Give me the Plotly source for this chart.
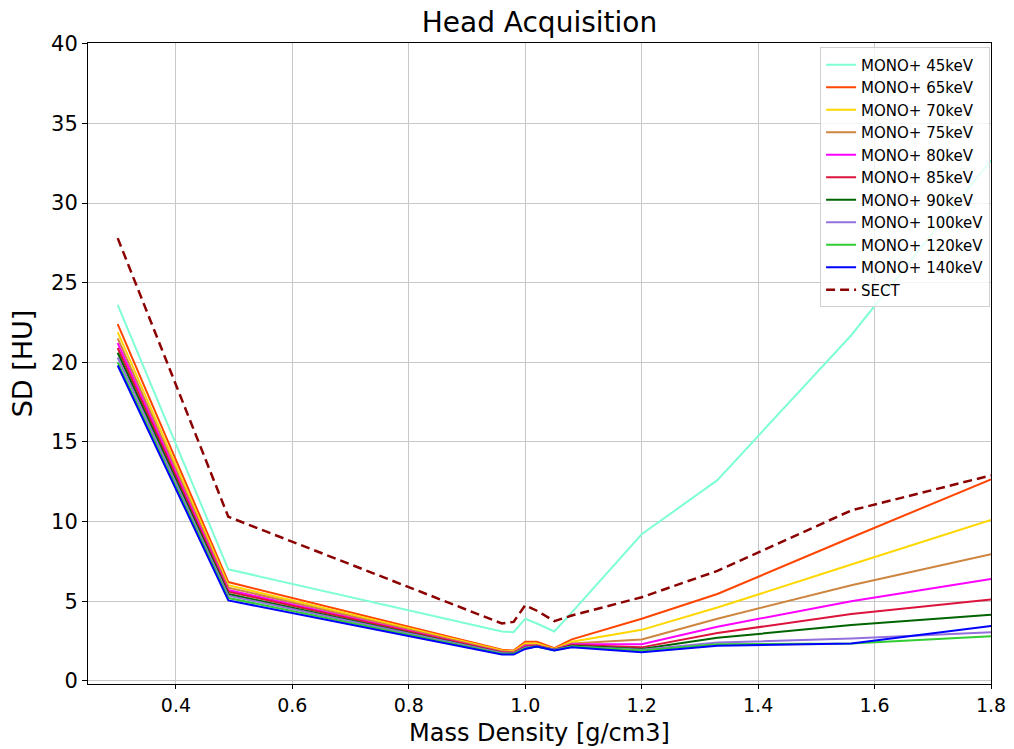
import plotly.graph_objects as go

density = [0.3, 0.49, 0.96, 0.98, 1.0, 1.02, 1.05, 1.08, 1.2, 1.33, 1.56, 1.8]

mono45 = [23.6, 7.0, 3.1, 3.05, 3.9, 3.6, 3.1, 4.3, 9.2, 12.6, 21.7, 32.7]
mono65 = [22.4, 6.2, 1.95, 1.9, 2.45, 2.45, 2.05, 2.6, 3.9, 5.45, 9.0, 12.65]
mono70 = [21.9, 6.0, 1.9, 1.85, 2.35, 2.35, 2.0, 2.45, 3.2, 4.6, 7.3, 10.1]
mono75 = [21.5, 5.85, 1.85, 1.8, 2.25, 2.25, 1.95, 2.35, 2.6, 3.9, 6.0, 7.95]
mono80 = [21.2, 5.7, 1.8, 1.75, 2.2, 2.2, 1.95, 2.3, 2.3, 3.4, 5.0, 6.4]
mono85 = [20.9, 5.6, 1.8, 1.75, 2.15, 2.2, 1.95, 2.25, 2.1, 3.0, 4.2, 5.1]
mono90 = [20.6, 5.45, 1.75, 1.7, 2.1, 2.15, 1.95, 2.2, 2.0, 2.7, 3.5, 4.15]
mono100 = [20.3, 5.35, 1.75, 1.7, 2.1, 2.15, 1.95, 2.15, 1.95, 2.4, 2.65, 3.05]
mono120 = [20.0, 5.2, 1.7, 1.7, 2.05, 2.15, 1.9, 2.15, 1.9, 2.3, 2.35, 2.8]
mono140 = [19.8, 5.05, 1.65, 1.65, 2.0, 2.15, 1.9, 2.1, 1.8, 2.2, 2.35, 3.45]
sect = [27.8, 10.3, 3.6, 3.7, 4.75, 4.4, 3.75, 4.1, 5.25, 6.9, 10.7, 12.9]

series = [
    ("MONO+ 45keV", mono45, "aquamarine", "solid"),
    ("MONO+ 65keV", mono65, "orangered", "solid"),
    ("MONO+ 70keV", mono70, "gold", "solid"),
    ("MONO+ 75keV", mono75, "peru", "solid"),
    ("MONO+ 80keV", mono80, "magenta", "solid"),
    ("MONO+ 85keV", mono85, "crimson", "solid"),
    ("MONO+ 90keV", mono90, "darkgreen", "solid"),
    ("MONO+ 100keV", mono100, "mediumpurple", "solid"),
    ("MONO+ 120keV", mono120, "limegreen", "solid"),
    ("MONO+ 140keV", mono140, "blue", "solid"),
    ("SECT", sect, "darkred", "dash"),
]

fig = go.Figure()
for name, vals, color, dash in series:
    if dash == "dash":
        line = dict(color=color, width=2.5, dash="9px,5px")
    else:
        line = dict(color=color, width=2)
    fig.add_trace(go.Scatter(x=density, y=vals, mode="lines", name=name, line=line))

font = "DejaVu Sans, sans-serif"
fig.update_layout(
    width=1014, height=749,
    margin=dict(l=88, r=23, t=43, b=65),
    paper_bgcolor="white", plot_bgcolor="white",
    font=dict(family=font, color="black"),
    title=dict(text="Head Acquisition", x=0.532, xanchor="center", y=0.971, yanchor="middle",
               font=dict(size=28, family=font)),
    legend=dict(x=0.999, y=0.993, xanchor="right", yanchor="top",
                bgcolor="rgba(255,255,255,0.8)", bordercolor="#d0d0d0", borderwidth=1,
                font=dict(size=15, family=font), tracegroupgap=0, itemwidth=30),
    xaxis=dict(range=[0.249, 1.8], tickvals=[0.4, 0.6, 0.8, 1.0, 1.2, 1.4, 1.6, 1.8],
               ticktext=["0.4", "0.6", "0.8", "1.0", "1.2", "1.4", "1.6", "1.8"],
               showgrid=True, gridcolor="#c8c8c8", gridwidth=1,
               showline=True, linecolor="black", linewidth=1, mirror=True,
               ticks="outside", ticklen=4, tickcolor="black", automargin=False,
               tickfont=dict(size=19), zeroline=False),
    yaxis=dict(range=[-0.2, 40.05], tickvals=[0, 5, 10, 15, 20, 25, 30, 35, 40],
               showgrid=True, gridcolor="#c8c8c8", gridwidth=1,
               showline=True, linecolor="black", linewidth=1, mirror=True,
               ticks="outside", ticklen=5, tickcolor="black", automargin=False,
               tickfont=dict(size=21), zeroline=False,
               title=dict(text="SD [HU]", font=dict(size=27), standoff=10)),
    annotations=[dict(text="Mass Density [g/cm3]", xref="paper", yref="paper",
                      x=0.5, y=0, yshift=-49, xanchor="center", yanchor="middle",
                      showarrow=False, font=dict(size=24, family=font))],
)

fig.write_html("out.html")
